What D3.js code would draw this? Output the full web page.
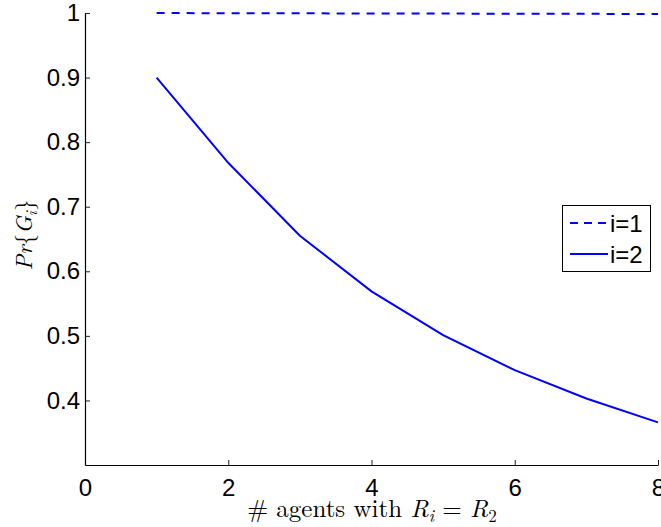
<!DOCTYPE html>
<html>
<head>
<meta charset="utf-8">
<script src="https://cdn.jsdelivr.net/npm/d3@7"></script>
<style>
  html, body { margin: 0; padding: 0; background: #fff; }
  svg { display: block; }
</style>
</head>
<body>
<svg id="chart" width="661" height="527"></svg>
<script>
// Number of agents with R_i = R_2
const agents = [1, 2, 3, 4, 5, 6, 7, 8];
// Pr{G_1} and Pr{G_2} for each agent count
const probG1 = [0.9999, 0.9997, 0.9995, 0.9993, 0.9991, 0.9989, 0.9987, 0.9985];
const probG2 = [0.900, 0.768, 0.655, 0.569, 0.501, 0.447, 0.403, 0.366];
const seriesNames = ["i=1", "i=2"];
const xTicks = [0, 2, 4, 6, 8];
const yTicks = [0.4, 0.5, 0.6, 0.7, 0.8, 0.9, 1];

const svg = d3.select("#chart");
const plotLeft = 85, plotRight = 658, plotTop = 13, plotBottom = 465;

const x = d3.scaleLinear().domain([0, 8]).range([plotLeft, plotRight]);
const y = d3.scaleLinear().domain([0.3, 1]).range([plotBottom, plotTop]);

const tickFont = "Liberation Sans, Arial, Helvetica, sans-serif";
const mathFont = "Latin Modern Roman, Liberation Serif, Times New Roman, serif";

// x axis, ticks pointing into the plot
const gx = svg.append("g").attr("transform", `translate(0,${plotBottom})`)
  .call(d3.axisBottom(x).tickValues(xTicks).tickSizeInner(-5).tickSizeOuter(0).tickPadding(14).tickFormat(d3.format("d")));
// y axis
const gy = svg.append("g").attr("transform", `translate(${plotLeft},0)`)
  .call(d3.axisLeft(y).tickValues(yTicks).tickSizeInner(-5).tickSizeOuter(0).tickPadding(5).tickFormat(d => d === 1 ? "1" : d3.format(".1f")(d)));

[gx, gy].forEach(g => {
  g.select(".domain").attr("stroke", "#000").attr("stroke-width", 1.2);
  g.selectAll(".tick line").attr("stroke", "#222").attr("stroke-width", 1);
  g.selectAll(".tick text").attr("fill", "#000")
    .style("font-family", tickFont).style("font-size", "24px");
});
gx.selectAll(".tick text").attr("dy", "0.71em");

const line = d3.line().x((d, i) => x(agents[i])).y(d => y(d));

svg.append("path").datum(probG1)
  .attr("d", line).attr("fill", "none").attr("stroke", "#0000ff")
  .attr("stroke-width", 2).attr("stroke-dasharray", "8,7");

svg.append("path").datum(probG2)
  .attr("d", line).attr("fill", "none").attr("stroke", "#0000ff")
  .attr("stroke-width", 2);

// x axis label: # agents with R_i = R_2
const xl = svg.append("text")
  .attr("x", 372).attr("y", 517)
  .attr("text-anchor", "middle")
  .style("font-family", mathFont).style("font-size", "25px").attr("fill", "#000");
xl.append("tspan").text("# agents with ");
xl.append("tspan").style("font-style", "italic").text("R");
xl.append("tspan").attr("dy", 5).style("font-size", "17px").style("font-style", "italic").text("i");
xl.append("tspan").attr("dy", -5).text(" = ");
xl.append("tspan").style("font-style", "italic").text("R");
xl.append("tspan").attr("dy", 5).style("font-size", "17px").text("2");

// y axis label: Pr{G_i}
const yl = svg.append("text")
  .attr("transform", "translate(32,235) rotate(-90)")
  .attr("text-anchor", "middle")
  .style("font-family", mathFont).style("font-size", "23px").attr("fill", "#000");
yl.append("tspan").style("font-style", "italic").text("Pr");
yl.append("tspan").text("{");
yl.append("tspan").style("font-style", "italic").text("G");
yl.append("tspan").attr("dy", 5).style("font-size", "16px").style("font-style", "italic").text("i");
yl.append("tspan").attr("dy", -5).text("}");

// legend
const legend = svg.append("g");
legend.append("rect")
  .attr("x", 562.5).attr("y", 205.5).attr("width", 88).attr("height", 66)
  .attr("fill", "#fff").attr("stroke", "#000").attr("stroke-width", 1);
const rows = [{ name: seriesNames[0], dash: "8,6", cy: 223 }, { name: seriesNames[1], dash: null, cy: 254 }];
rows.forEach(r => {
  legend.append("line")
    .attr("x1", 570).attr("x2", 608).attr("y1", r.cy).attr("y2", r.cy)
    .attr("stroke", "#0000ff").attr("stroke-width", 2)
    .attr("stroke-dasharray", r.dash);
  legend.append("text")
    .attr("x", 610).attr("y", r.cy).attr("dy", "0.36em")
    .style("font-family", tickFont).style("font-size", "24px").attr("fill", "#000")
    .text(r.name);
});
</script>
</body>
</html>
